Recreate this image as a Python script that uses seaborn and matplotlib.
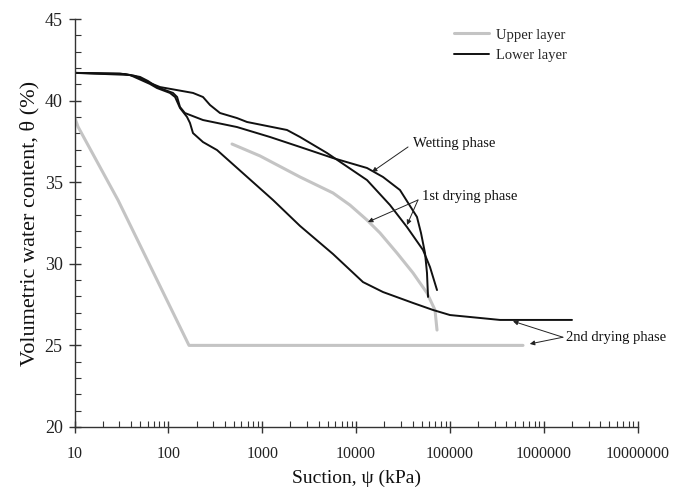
import numpy as np
import pandas as pd
import matplotlib
matplotlib.use("Agg")
import matplotlib.pyplot as plt
import seaborn as sns
from matplotlib.ticker import LogLocator, NullFormatter, MultipleLocator, FixedLocator, FixedFormatter

# ---------------- data ----------------
# Upper layer (grey)
upper_2nd_suction = [10, 10.9, 29.1, 166, 601000]
upper_2nd_theta = [39.0, 38.4, 33.9, 25.0, 25.0]

upper_1st_suction = [477, 948, 2529, 5680, 8610, 13090, 17990, 27300, 40460, 57000, 69350, 72900]
upper_1st_theta = [37.34, 36.61, 35.32, 34.34, 33.6, 32.68, 31.89, 30.66, 29.44, 28.21, 27.17, 25.94]

# Lower layer (black)
lower_1st_suction = [10, 30.5, 44.1, 63.7, 81.5, 183, 234, 278, 355, 539, 689, 1837, 2529,
                     4900, 13090, 23000, 34910, 51650, 61380, 72900]
lower_1st_theta = [41.7, 41.66, 41.51, 41.08, 40.83, 40.47, 40.22, 39.73, 39.24, 38.93, 38.69,
                   38.20, 37.77, 36.79, 35.13, 33.60, 32.25, 30.85, 29.80, 28.39]

lower_wet_suction = [10, 10, 34.5, 49.9, 60.7, 75.7, 112, 124, 133, 150, 234, 539, 1211, 2529,
                     5680, 13090, 19370, 29380, 44570, 49200, 54300, 57000, 58480]
lower_wet_theta = [42.3, 41.7, 41.63, 41.45, 41.20, 40.83, 40.47, 40.22, 39.61, 39.24, 38.81,
                   38.38, 37.77, 37.16, 36.48, 35.87, 35.32, 34.52, 32.87, 31.89, 30.66, 29.44, 27.97]

lower_2nd_suction = [10, 39.0, 63.7, 75.7, 104, 118, 133, 158, 170, 183, 234, 330, 1303, 2529,
                     5680, 11860, 19370, 40460, 66070, 100200, 342000, 2.0e6]
lower_2nd_theta = [41.7, 41.57, 41.02, 40.77, 40.47, 40.22, 39.55, 39.0, 38.63, 38.01, 37.46,
                   36.97, 33.91, 32.32, 30.6, 28.88, 28.27, 27.60, 27.17, 26.86, 26.56, 26.56]

y_ticks = [20, 25, 30, 35, 40, 45]
x_ticks = [10, 100, 1000, 10000, 100000, 1000000, 10000000]
x_tick_labels = ["10", "100", "1000", "10000", "100000", "1000000", "10000000"]

# ---------------- style ----------------
sns.set_style("ticks")
plt.rcParams["font.family"] = ["Liberation Serif", "DejaVu Serif"]

GREY = "#c4c4c4"
BLACK = "#111111"
AXC = "#333333"

fig = plt.figure(figsize=(6.73, 4.9), dpi=100)
ax = fig.add_axes([0.1107, 0.1286, 0.8367, 0.8326])

curves = [
    (upper_2nd_suction, upper_2nd_theta, "Upper layer", GREY, 2.2),
    (upper_1st_suction, upper_1st_theta, "Upper layer", GREY, 2.2),
    (lower_1st_suction, lower_1st_theta, "Lower layer", BLACK, 1.4),
    (lower_wet_suction, lower_wet_theta, "Lower layer", BLACK, 1.4),
    (lower_2nd_suction, lower_2nd_theta, "Lower layer", BLACK, 1.4),
]
for xs, ys, lab, col, lw in curves:
    df = pd.DataFrame({"suction": xs, "theta": ys})
    sns.lineplot(data=df, x="suction", y="theta", ax=ax, color=col, lw=lw,
                 sort=False, estimator=None, label=lab, legend=False)

ax.set_xscale("log")
ax.set_xlim(10, 1e7)
ax.set_ylim(20, 45)

ax.xaxis.set_major_locator(FixedLocator(x_ticks))
ax.xaxis.set_major_formatter(FixedFormatter(x_tick_labels))
ax.xaxis.set_minor_locator(LogLocator(base=10, subs=np.arange(2, 10), numticks=20))
ax.xaxis.set_minor_formatter(NullFormatter())
ax.yaxis.set_major_locator(FixedLocator(y_ticks))
ax.yaxis.set_minor_locator(MultipleLocator(1))

for s in ["top", "right"]:
    ax.spines[s].set_visible(False)
for s in ["left", "bottom"]:
    ax.spines[s].set_color(AXC)
    ax.spines[s].set_linewidth(1.0)

ax.tick_params(axis="both", which="major", direction="inout", length=9, width=1.0, color=AXC)
ax.tick_params(axis="both", which="minor", direction="in", length=4, width=0.8, color=AXC)
ax.tick_params(axis="x", which="major", labelsize=11.5, pad=9, labelcolor="#222222")
ax.tick_params(axis="y", which="major", labelsize=13, pad=4, labelcolor="#222222")

ax.set_xlabel("Suction, ψ (kPa)", fontsize=14, color="#111111", labelpad=6)
ax.set_ylabel("Volumetric water content, θ (%)", fontsize=16, color="#111111", labelpad=4)

# legend
handles, labels = ax.get_legend_handles_labels()
seen = {}
for h, l in zip(handles, labels):
    if l not in seen:
        seen[l] = h
leg = ax.legend([seen["Upper layer"], seen["Lower layer"]], ["Upper layer", "Lower layer"],
                loc="upper left", bbox_to_anchor=(0.674, 0.977), frameon=False,
                fontsize=10.5, handlelength=2.4, handletextpad=0.5, labelspacing=0.5,
                borderpad=0, borderaxespad=0)

# annotations
arrow = dict(arrowstyle="-|>", color="#222222", lw=0.7, mutation_scale=7, shrinkA=0, shrinkB=0)
txt = dict(fontsize=10.5, color="#111111", va="center", ha="left")

ax.text(40460, 37.4, "Wetting phase", **txt)
ax.annotate("", xy=(14790, 35.63), xytext=(35800, 37.16), arrowprops=arrow)

ax.text(50470, 34.15, "1st drying phase", **txt)
ax.annotate("", xy=(13390, 32.56), xytext=(45700, 33.91), arrowprops=arrow)
ax.annotate("", xy=(34910, 32.38), xytext=(45700, 33.91), arrowprops=arrow)

ax.text(1.73e6, 25.5, "2nd drying phase", **txt)
ax.annotate("", xy=(4.7e5, 26.48), xytext=(1.6e6, 25.5), arrowprops=arrow)
ax.annotate("", xy=(7.1e5, 25.09), xytext=(1.6e6, 25.5), arrowprops=arrow)

fig.savefig("out.png", dpi=100)
